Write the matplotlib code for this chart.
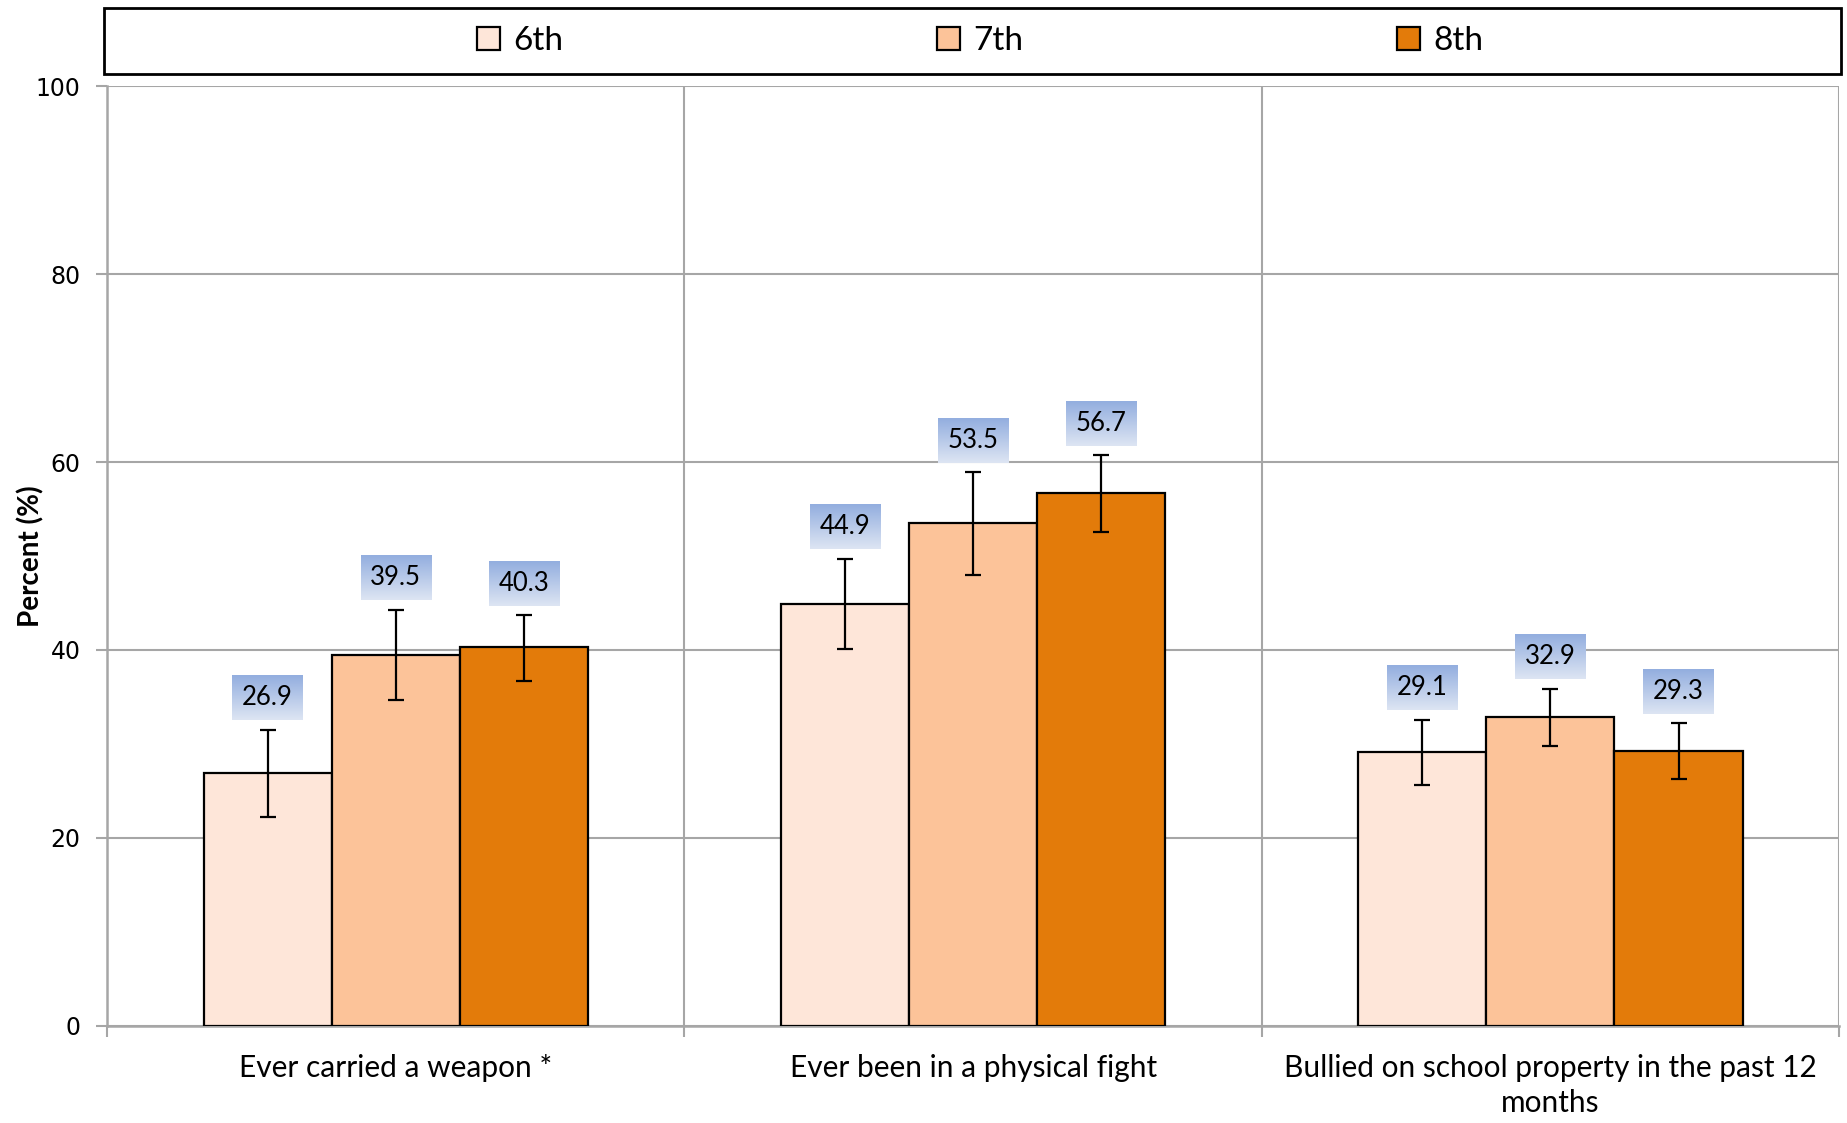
import numpy as np
import matplotlib.pyplot as plt
from matplotlib.patches import Rectangle

# Дані
categories = ["Ever carried a weapon *", "Ever been in a physical fight",
              "Bullied on school property in the past 12\nmonths"]
grades = ["6th", "7th", "8th"]
values = {
    "6th": [26.9, 44.9, 29.1],
    "7th": [39.5, 53.5, 32.9],
    "8th": [40.3, 56.7, 29.3],
}
lower = {
    "6th": [22.2, 40.1, 25.6],
    "7th": [34.7, 48.0, 29.8],
    "8th": [36.7, 52.6, 26.3],
}
upper = {
    "6th": [31.5, 49.7, 32.6],
    "7th": [44.3, 58.9, 35.9],
    "8th": [43.7, 60.7, 32.2],
}
colors = {"6th": "#FEE6D9", "7th": "#FCC399", "8th": "#E37B0A"}
yticks = [0, 20, 40, 60, 80, 100]

main_font = "Lato"
grid_col = "#A6A6A6"

fig = plt.figure(figsize=(18.47, 11.23), dpi=100)
ax = fig.add_axes([0.058, 0.0864, 0.9377, 0.837])

x = np.arange(len(categories))
width = 0.222
labels = []
for i, g in enumerate(grades):
    pos = x + (i - 1) * width
    v = np.array(values[g])
    yerr = [v - np.array(lower[g]), np.array(upper[g]) - v]
    ax.bar(pos, v, width, color=colors[g], edgecolor="black", linewidth=1.6,
           label=g, zorder=3)
    ax.errorbar(pos, v, yerr=yerr, fmt="none", ecolor="black", elinewidth=1.6,
                capsize=6, capthick=1.6, zorder=4)
    for xp, val, up in zip(pos, v, upper[g]):
        t = ax.annotate(f"{val:.1f}", (xp, up), xytext=(0, 23),
                        textcoords="offset points", ha="center", va="center",
                        fontsize=18.5, family=main_font, zorder=6,
                        bbox=dict(boxstyle="square,pad=0.38", fc="none", ec="none"))
        labels.append(t)

ax.set_xlim(-0.5, 2.5)
ax.set_ylim(0, 100)
ax.set_yticks(yticks)
ax.set_yticklabels([str(t) for t in yticks], fontsize=17, family="DejaVu Sans")
ax.tick_params(axis="y", length=8, width=1.5, color=grid_col, pad=11)

# мітки категорій та межі
ax.set_xticks(x)
ax.set_xticklabels(categories, fontsize=21.5, family=main_font, linespacing=1.3)
ax.tick_params(axis="x", length=0, pad=20)
ax.set_xticks([0.5 + k for k in range(-1, 3)], minor=True)
ax.tick_params(axis="x", which="minor", length=8, width=1.5, color=grid_col)
for b in [0.5, 1.5, 2.5]:
    ax.axvline(b, color=grid_col, lw=1.5, zorder=1)

ax.yaxis.grid(True, color=grid_col, lw=1.5, zorder=0)
ax.set_axisbelow(True)
for s in ["top", "right"]:
    ax.spines[s].set_visible(False)
for s in ["left", "bottom"]:
    ax.spines[s].set_color(grid_col)
    ax.spines[s].set_linewidth(1.8)

ax.set_ylabel("Percent (%)", fontsize=20, fontweight="bold", family=main_font)
ax.yaxis.set_label_coords(-0.036, 0.5)

# рамка легенди
fig.patches.append(Rectangle((0.0563, 0.934), 0.9405, 0.0589, transform=fig.transFigure,
                             fill=False, ec="black", lw=2))
fig.legend(loc="center", bbox_to_anchor=(0.5305, 0.9635), ncol=3, frameon=False,
           prop={"family": main_font, "size": 24}, handlelength=0.7,
           handleheight=0.7, handletextpad=0.4, columnspacing=11.2)

# градієнтні підкладки під підписи
fig.canvas.draw()
grad = np.linspace(0, 1, 64).reshape(-1, 1)
cmap = plt.matplotlib.colors.LinearSegmentedColormap.from_list(
    "lbl", ["#DDE5F3", "#93AEDF"])
inv = ax.transData.inverted()
for t in labels:
    bb = t.get_bbox_patch().get_window_extent()
    (x0, y0), (x1, y1) = inv.transform([[bb.x0, bb.y0], [bb.x1, bb.y1]])
    ax.imshow(grad, extent=(x0, x1, y0, y1), origin="lower", cmap=cmap,
              aspect="auto", zorder=5)
ax.set_xlim(-0.5, 2.5)
ax.set_ylim(0, 100)

fig.savefig("out.png", dpi=100)
